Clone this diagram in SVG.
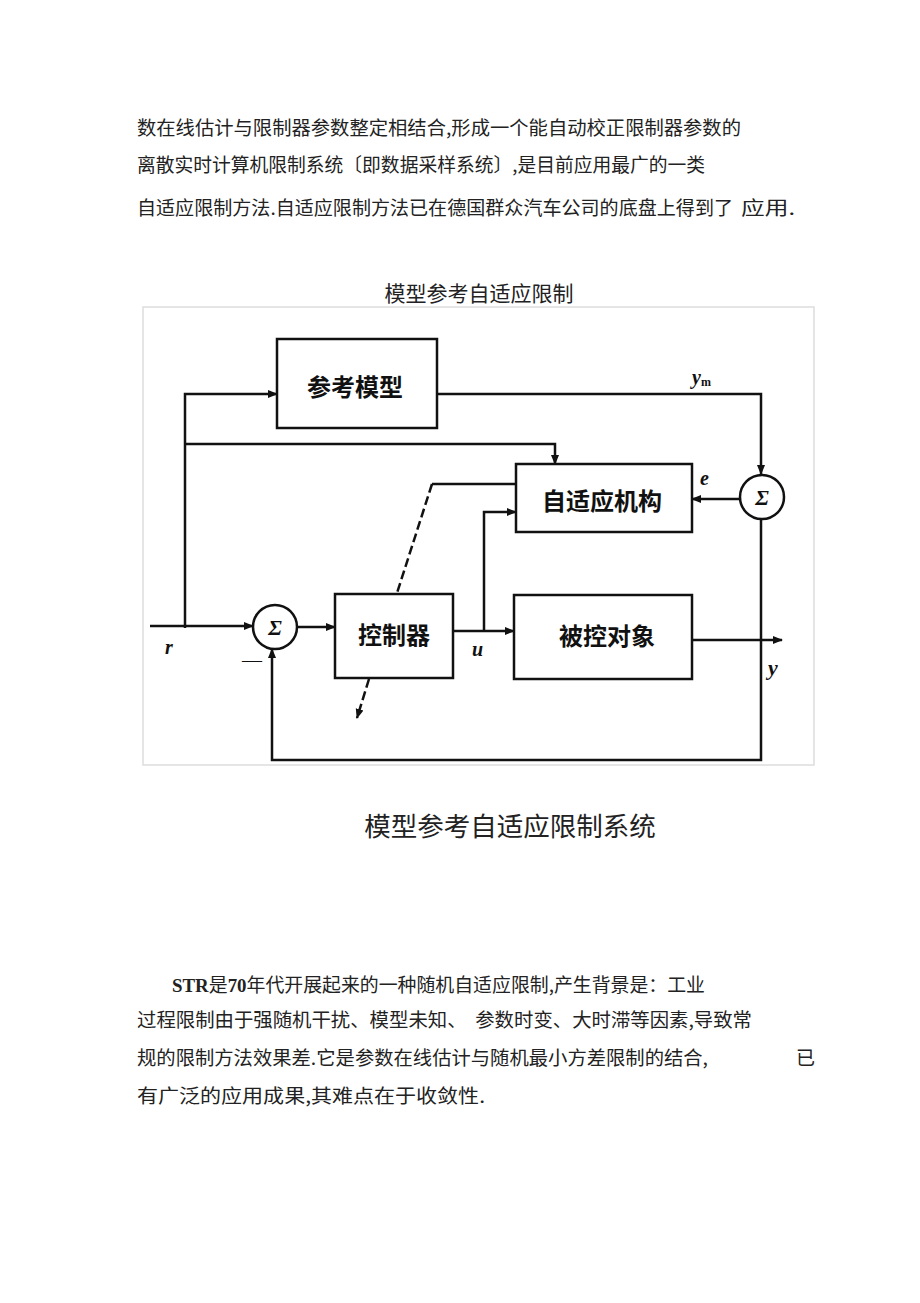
<svg xmlns="http://www.w3.org/2000/svg" width="920" height="1303" viewBox="0 0 920 1303">
<defs>
<style>
.p{font-family:"Noto Sans CJK SC","Liberation Serif",sans-serif;font-size:19px;fill:#222}
.lbl{font-family:"Noto Sans CJK SC",sans-serif;font-size:24px;font-weight:bold;fill:#111;text-anchor:middle;dominant-baseline:central}
.box{fill:#fff;stroke:#111;stroke-width:2.5}
.ln{fill:none;stroke:#111;stroke-width:2.5}
.dash{fill:none;stroke:#111;stroke-width:2.5;stroke-dasharray:9 4}
.it{font-family:"Liberation Serif",serif;font-style:italic;font-weight:bold;fill:#111}
.sig{font-family:"Liberation Serif",serif;font-weight:bold;font-style:italic;font-size:22px;fill:#111;text-anchor:middle;dominant-baseline:central}
</style>
<marker id="ah" viewBox="0 0 10 10" refX="9" refY="5" markerWidth="4" markerHeight="4" orient="auto-start-reverse" markerUnits="strokeWidth">
<path d="M0,1 L10,5 L0,9 z" fill="#111"/>
</marker>
</defs>
<rect width="920" height="1303" fill="#fff"/>

<g id="top-text">
<text class="p" x="137" y="135" textLength="604" lengthAdjust="spacingAndGlyphs">数在线估计与限制器参数整定相结合,形成一个能自动校正限制器参数的</text>
<text class="p" x="137" y="172" textLength="568" lengthAdjust="spacingAndGlyphs">离散实时计算机限制系统〔即数据采样系统〕,是目前应用最广的一类</text>
<text class="p" x="137" y="215" textLength="596" lengthAdjust="spacingAndGlyphs">自适应限制方法.自适应限制方法已在德国群众汽车公司的底盘上得到了</text>
<text class="p" x="741" y="215" textLength="54" lengthAdjust="spacingAndGlyphs">应用.</text>
</g>

<text class="p" x="479" y="301" text-anchor="middle" style="font-size:21px">模型参考自适应限制</text>

<rect x="143" y="307" width="671" height="458" fill="#fff" stroke="#ddd" stroke-width="1.5"/>

<g id="connectors">
<path class="ln" d="M437,394 H761 V474" marker-end="url(#ah)"/>
<path class="ln" d="M185,628 V394 H277" marker-end="url(#ah)"/>
<path class="ln" d="M185,444 H555 V464" marker-end="url(#ah)"/>
<path class="ln" d="M740,499 H692" marker-end="url(#ah)"/>
<path class="ln" d="M484,631 V512 H516" marker-end="url(#ah)"/>
<path class="ln" d="M150,626 H253" marker-end="url(#ah)"/>
<path class="ln" d="M297,627 H335" marker-end="url(#ah)"/>
<path class="ln" d="M453,631 H514" marker-end="url(#ah)"/>
<path class="ln" d="M692,640 H782" marker-end="url(#ah)"/>
<path class="ln" d="M761,519 V760 H272 V649" marker-end="url(#ah)"/>
<path class="ln" d="M516,484 H432"/>
<path class="dash" d="M432,484 L397,593"/>
<path class="dash" d="M369,679 L357,718" marker-end="url(#ah)"/>
</g>

<g id="ref-model">
<rect class="box" x="277" y="339" width="160" height="89"/>
<text class="lbl" x="355" y="385">参考模型</text>
</g>
<g id="adaptive">
<rect class="box" x="516" y="464" width="176" height="68"/>
<text class="lbl" x="602" y="499">自适应机构</text>
</g>
<g id="controller">
<rect class="box" x="335" y="594" width="118" height="84"/>
<text class="lbl" x="394" y="633">控制器</text>
</g>
<g id="plant">
<rect class="box" x="514" y="595" width="178" height="84"/>
<text class="lbl" x="607" y="634">被控对象</text>
</g>
<g id="sum-right">
<circle cx="762" cy="497" r="22" fill="#fff" stroke="#111" stroke-width="2.5"/>
<text class="sig" x="762" y="497">Σ</text>
</g>
<g id="sum-left">
<circle cx="275" cy="627" r="22" fill="#fff" stroke="#111" stroke-width="2.5"/>
<text class="sig" x="275" y="627">Σ</text>
</g>

<g id="labels">
<text class="it" x="692" y="384" font-size="20">y<tspan font-size="12" dy="2" font-style="normal">m</tspan></text>
<text class="it" x="700" y="485" font-size="20">e</text>
<text class="it" x="165" y="654" font-size="20">r</text>
<text class="it" x="472" y="656" font-size="20">u</text>
<text class="it" x="768" y="675" font-size="22">y</text>
<text x="252" y="667" font-family="Liberation Serif,serif" font-size="20" fill="#111" text-anchor="middle">—</text>
</g>

<text class="p" x="510" y="836" text-anchor="middle" style="font-size:26.5px">模型参考自适应限制系统</text>

<g id="bottom-text">
<text class="p" x="172" y="992" textLength="533" lengthAdjust="spacingAndGlyphs"><tspan font-family="Liberation Serif,serif" font-weight="bold">STR</tspan>是<tspan font-family="Liberation Serif,serif" font-weight="bold">70</tspan>年代开展起来的一种随机自适应限制,产生背景是：工业</text>
<text class="p" x="137" y="1027" textLength="615" lengthAdjust="spacingAndGlyphs" xml:space="preserve">过程限制由于强随机干扰、模型未知、  参数时变、大时滞等因素,导致常</text>
<text class="p" x="137" y="1065" textLength="571" lengthAdjust="spacingAndGlyphs">规的限制方法效果差.它是参数在线估计与随机最小方差限制的结合,</text>
<text class="p" x="796" y="1065">已</text>
<text class="p" x="137" y="1103" textLength="348" lengthAdjust="spacingAndGlyphs">有广泛的应用成果,其难点在于收敛性.</text>
</g>
</svg>
